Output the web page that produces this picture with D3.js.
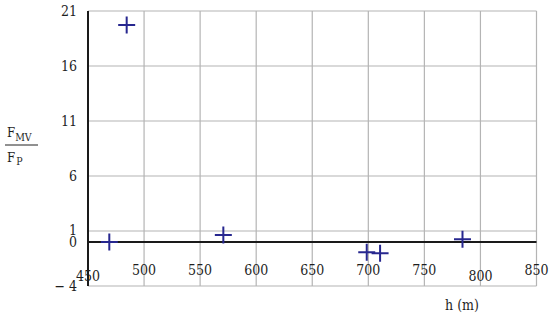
<!DOCTYPE html>
<html>
<head>
<meta charset="utf-8">
<script src="https://cdn.jsdelivr.net/npm/d3@7/dist/d3.min.js"></script>
<style>
  html, body { margin: 0; padding: 0; background: #fff; }
  svg { display: block; }
  svg text { font-stretch: condensed; }
</style>
</head>
<body>
<svg id="chart" width="550" height="321"></svg>
<script>
// Data
const heights = [484.5, 469, 570.7, 698.6, 710.5, 784];
const ratios  = [19.73, 0.0, 0.64, -0.94, -1.03, 0.25];

const xTicks = [450, 500, 550, 600, 650, 700, 750, 800, 850];
const xTickLabels = ["450", "500", "550", "600", "650", "700", "750", "800", "850"];
const yTicks = [21, 16, 11, 6, 1, 0, -4];
const yTickLabels = ["21", "16", "11", "6", "1", "0", "\u2212 4"];
const yGrid = [21, 16, 11, 6, 1, -4];
const xGrid = [500, 550, 600, 650, 700, 750, 800, 850];
const loweredXLabels = [450, 800];

const FONT = "'DejaVu Serif Condensed', 'DejaVu Serif'";

const svg = d3.select("#chart").attr("font-family", FONT);
const x = d3.scaleLinear().domain([450, 850]).range([88, 536.5]);
const y = d3.scaleLinear().domain([-4, 21]).range([286, 11]);

// Grid lines
svg.append("g").selectAll("line.h").data(yGrid).join("line")
  .attr("x1", x(450)).attr("x2", x(850))
  .attr("y1", d => y(d)).attr("y2", d => y(d))
  .attr("stroke", "#b4b4b4").attr("stroke-width", 1.2);
svg.append("g").selectAll("line.v").data(xGrid).join("line")
  .attr("x1", d => x(d)).attr("x2", d => x(d))
  .attr("y1", y(21)).attr("y2", y(-4))
  .attr("stroke", "#b4b4b4").attr("stroke-width", 1.2);

// Zero line and left axis
svg.append("line")
  .attr("x1", x(450)).attr("x2", x(850))
  .attr("y1", y(0)).attr("y2", y(0))
  .attr("stroke", "#1a1a1a").attr("stroke-width", 2);
svg.append("line")
  .attr("x1", x(450)).attr("x2", x(450))
  .attr("y1", y(21)).attr("y2", y(-4))
  .attr("stroke", "#1a1a1a").attr("stroke-width", 2);

// Y tick labels
svg.append("g").selectAll("text").data(yTicks).join("text")
  .attr("font-family", FONT).attr("fill", "#1e1e1e")
  .attr("x", 77).attr("y", d => y(d) + (d === 1 ? -1.5 : 0))
  .attr("dy", "0.36em")
  .attr("text-anchor", "end")
  .attr("font-size", 14)
  .text((d, i) => yTickLabels[i]);

// X tick labels
svg.append("g").selectAll("text").data(xTicks).join("text")
  .attr("font-family", FONT).attr("fill", "#1e1e1e")
  .attr("x", d => x(d))
  .attr("y", d => loweredXLabels.includes(d) ? 281 : 275)
  .attr("text-anchor", "middle")
  .attr("font-size", 14)
  .text((d, i) => xTickLabels[i]);

// Axis titles
svg.append("text").attr("font-family", FONT).attr("fill", "#1e1e1e").attr("x", 462).attr("y", 310)
  .attr("text-anchor", "middle").attr("font-size", 14).text("h (m)");

const yt = svg.append("g").attr("font-family", FONT).attr("fill", "#1e1e1e");
yt.append("text").attr("x", 7).attr("y", 137).attr("font-size", 13)
  .text("F").append("tspan").attr("font-size", 10.5).attr("dy", 4).text("MV");
yt.append("line").attr("x1", 5).attr("x2", 38).attr("y1", 145).attr("y2", 145)
  .attr("stroke", "#222").attr("stroke-width", 1);
yt.append("text").attr("x", 7).attr("y", 162).attr("font-size", 13)
  .text("F").append("tspan").attr("font-size", 10.5).attr("dy", 3).attr("dx", 1).text("P");

// Cross markers
const half = 8.5;
const pts = heights.map((h, i) => [x(h), y(ratios[i])]);
svg.append("g").selectAll("path").data(pts).join("path")
  .attr("d", d => `M${d[0]-half},${d[1]}H${d[0]+half}M${d[0]},${d[1]-half}V${d[1]+half}`)
  .attr("stroke", "#27278f").attr("stroke-width", 2).attr("fill", "none");
</script>
</body>
</html>
